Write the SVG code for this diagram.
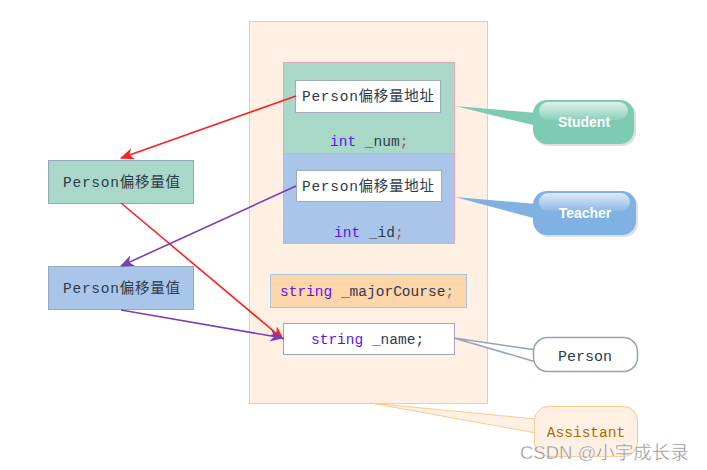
<svg xmlns="http://www.w3.org/2000/svg" width="707" height="470" viewBox="0 0 707 470">
<defs>
<style>
.mono{font-family:"Liberation Mono","Noto Sans CJK SC",monospace;font-size:14.5px;fill:#2d3a4c}
.kw{fill:#5d12e8}
.call{font-family:"Liberation Sans","Noto Sans",sans-serif;font-size:14px;font-weight:bold;fill:#ffffff}
.red{stroke:#ff2020;stroke-width:1.6;fill:none}
.pur{stroke:#7a3fb0;stroke-width:1.6;fill:none}
</style>
<marker id="ar" viewBox="0 0 12 10" refX="11" refY="5" markerWidth="14" markerHeight="12" markerUnits="userSpaceOnUse" orient="auto">
<path d="M0,0 L12,5 L0,10 L3.5,5 Z" fill="#ff2020"/>
</marker>
<marker id="ap" viewBox="0 0 12 10" refX="11" refY="5" markerWidth="14" markerHeight="12" markerUnits="userSpaceOnUse" orient="auto">
<path d="M0,0 L12,5 L0,10 L3.5,5 Z" fill="#7a3fb0"/>
</marker>
<linearGradient id="gloss" x1="0" y1="0" x2="0" y2="1">
<stop offset="0" stop-color="#ffffff" stop-opacity="0.75"/>
<stop offset="1" stop-color="#ffffff" stop-opacity="0.1"/>
</linearGradient>
</defs>
<rect width="707" height="470" fill="#ffffff"/>

<g id="container">
<rect x="249.5" y="21.5" width="238" height="382" fill="#fff0e3" stroke="#f9ca95"/>
</g>

<g id="student-block">
<rect x="283.5" y="62.5" width="171" height="91" fill="#a9d8c9" stroke="#eaa6b8"/>
<rect x="295.5" y="80.5" width="145" height="32" fill="#ffffff" stroke="#a0acbc"/>
<text class="mono" x="302" y="101" textLength="132" lengthAdjust="spacing">Person偏移量地址</text>
<text class="mono" x="330" y="146"><tspan class="kw">int</tspan> _num<tspan fill="#a05050">;</tspan></text>
</g>

<g id="teacher-block">
<rect x="283.5" y="153.5" width="171" height="90" fill="#a9c6ea" stroke="#eaa6b8"/>
<rect x="296.5" y="170.5" width="145" height="31" fill="#ffffff" stroke="#a0acbc"/>
<text class="mono" x="302" y="191" textLength="132" lengthAdjust="spacing">Person偏移量地址</text>
<text class="mono" x="334" y="237"><tspan class="kw">int</tspan> _id<tspan fill="#a05050">;</tspan></text>
</g>

<g id="major-course">
<rect x="270.5" y="274.5" width="196" height="33" fill="#ffd5aa" stroke="#a9c6dc"/>
<text class="mono" x="280" y="296"><tspan class="kw">string</tspan> _majorCourse<tspan fill="#3a8a8a">;</tspan></text>
</g>

<g id="name-field">
<rect x="283.5" y="323.5" width="171" height="31" fill="#ffffff" stroke="#a0a8b8"/>
<text class="mono" x="311" y="344"><tspan class="kw">string</tspan> _name;</text>
</g>

<g id="offset-value-1">
<rect x="48.5" y="160.5" width="145" height="43" fill="#a9d8c9" stroke="#96a9bb"/>
<text class="mono" x="63" y="187" textLength="117" lengthAdjust="spacing">Person偏移量值</text>
</g>

<g id="offset-value-2">
<rect x="48.5" y="266.5" width="145" height="43" fill="#a9c6ea" stroke="#96a9bb"/>
<text class="mono" x="63" y="293" textLength="117" lengthAdjust="spacing">Person偏移量值</text>
</g>

<g id="connectors">
<line class="red" x1="296" y1="96" x2="121" y2="158" marker-end="url(#ar)"/>
<line class="red" x1="121" y1="203" x2="283" y2="339" marker-end="url(#ar)"/>
<line class="pur" x1="296" y1="186" x2="121" y2="266" marker-end="url(#ap)"/>
<line class="pur" x1="121" y1="310" x2="283" y2="338" marker-end="url(#ap)"/>
</g>

<g id="student-callout">
<polygon points="455,106 537,113 537,126" fill="#7ecbb4"/>
<rect x="535" y="102" width="101" height="44" rx="14" fill="#c8c8c8" opacity="0.6"/>
<rect x="533" y="100" width="101" height="44" rx="14" fill="#7ecbb4"/>
<rect x="539" y="102" width="89" height="18" rx="9" fill="url(#gloss)"/>
<text class="call" x="584" y="127" text-anchor="middle">Student</text>
</g>

<g id="teacher-callout">
<polygon points="455,197 537,204 537,219" fill="#7fb1e3"/>
<rect x="535" y="193" width="103" height="44" rx="14" fill="#c8c8c8" opacity="0.6"/>
<rect x="533" y="191" width="103" height="44" rx="14" fill="#7fb1e3"/>
<rect x="539" y="193" width="91" height="18" rx="9" fill="url(#gloss)"/>
<text class="call" x="585" y="218" text-anchor="middle">Teacher</text>
</g>

<g id="person-callout">
<polygon points="454,338 536,350 536,362" fill="#ffffff" stroke="#95a3b8" stroke-width="1.5"/>
<rect x="533.5" y="337.5" width="104" height="34" rx="14" fill="#ffffff" stroke="#95a3b8" stroke-width="1.5"/>
<text class="mono" x="585" y="361" text-anchor="middle" style="font-size:15px">Person</text>
</g>

<g id="assistant-callout">
<polygon points="370,403 536,419 536,433" fill="#fff0e3" stroke="#fcc98f"/>
<rect x="534.5" y="406.5" width="103" height="50" rx="14" fill="#fff0e3" stroke="#fcc98f"/>
<text class="mono" x="586" y="437" text-anchor="middle" style="fill:#a86b00">Assistant</text>
</g>

<text x="520" y="459" font-family="Liberation Sans,Noto Sans CJK SC,sans-serif" font-size="18.5" fill="#8f8f8f" stroke="#ffffff" stroke-width="0.4">CSDN @小宇成长录</text>
</svg>
